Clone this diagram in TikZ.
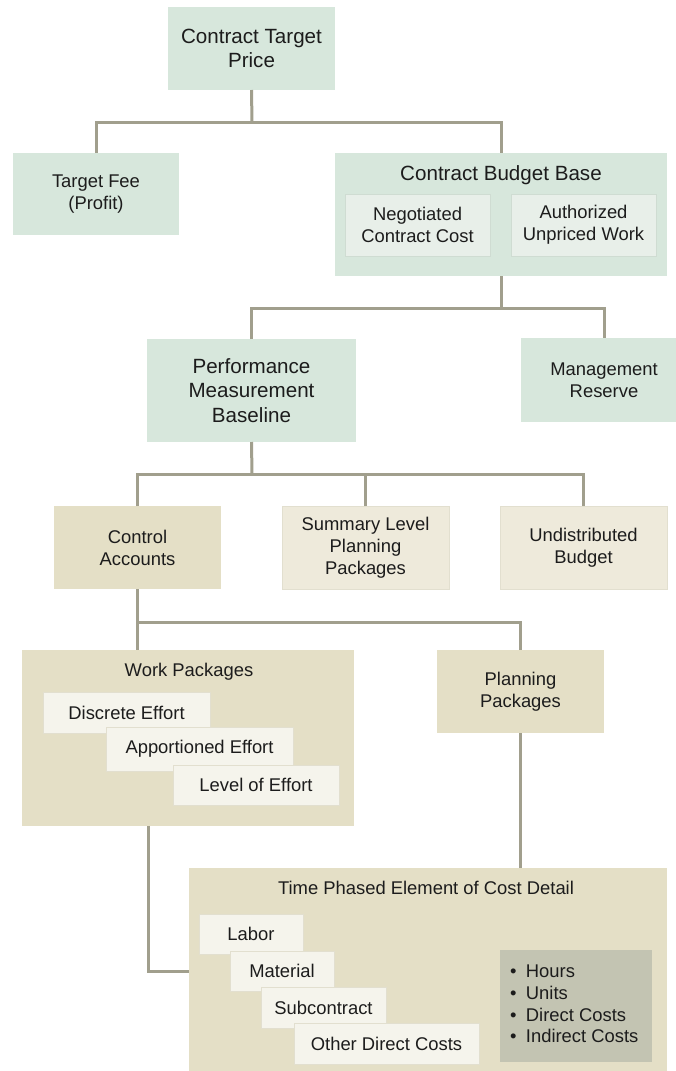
\documentclass[tikz,border=0pt]{standalone}
\usepackage{fontspec}
\setmainfont{Liberation Sans}
\definecolor{grn}{HTML}{D7E7DC}
\definecolor{grnin}{HTML}{E8EFE9}
\definecolor{grnbd}{HTML}{CFDCD2}
\definecolor{tan}{HTML}{E4DFC6}
\definecolor{tanlt}{HTML}{EEEADB}
\definecolor{cream}{HTML}{F5F4EC}
\definecolor{creambd}{HTML}{E2DFCF}
\definecolor{grybox}{HTML}{C3C4B2}
\definecolor{lnc}{HTML}{A19F8D}
\definecolor{txt}{HTML}{1C1C1C}
\tikzset{
  x=1pt, y=-1pt,
  base/.style={inner sep=0pt, outer sep=0pt, align=center, text=txt,
    font=\fontsize{18.4}{22}\selectfont},
  big/.style={font=\fontsize{20.6}{24.3}\selectfont},
  gbox/.style={base, fill=grn},
  gin/.style={base, fill=grnin, draw=grnbd, line width=0.8pt},
  tbox/.style={base, fill=tan},
  tlt/.style={base, fill=tanlt, draw=creambd, line width=0.6pt},
  cbox/.style={base, fill=cream, draw=creambd, line width=0.8pt},
  lbl/.style={base, anchor=base},
  conn/.style={draw=lnc, line width=3pt},
  sz/.style 2 args={minimum width=#1pt, minimum height=#2pt},
}
\begin{document}
\begin{tikzpicture}
\useasboundingbox[fill=white] (0,0) rectangle (676,1071);
\clip (0,0) rectangle (676,1071);

% level 1
\node[gbox, big, sz={167}{83}] (ctp) at (251.5,48.5) {Contract Target\\Price};
% level 2
\node[gbox, sz={166}{82}] (fee) at (96,194) {Target Fee\\(Profit)};
\node[gbox, sz={332}{123}] (cbb) at (501,214.5) {};
\node[lbl, big] (cbbt) at (501,180) {Contract Budget Base};
\node[gin, sz={145}{62}] (neg) at (417.5,225) {Negotiated\\Contract Cost};
\node[gin, sz={145}{62}] (auth) at (583.5,225) {Authorized\\Unpriced Work};
% level 3
\node[gbox, big, sz={209}{103}] (pmb) at (251.5,390.5) {Performance\\Measurement\\Baseline};
\node[gbox, sz={166}{84}] (mr) at (604,380) {Management\\Reserve};
% level 4
\node[tbox, sz={167}{83}] (ca) at (137.5,547.5) {Control\\Accounts};
\node[tlt, sz={167}{83}] (slp) at (365.5,547.5) {Summary Level\\Planning\\Packages};
\node[tlt, sz={167}{83}] (ub) at (583.5,547.5) {Undistributed\\Budget};
% level 5
\node[tbox, sz={332}{176}] (wp) at (188,738) {};
\node[lbl] (wpt) at (189,676) {Work Packages};
\node[cbox, sz={167}{41}] (de) at (126.5,712.5) {Discrete Effort};
\node[cbox, sz={187}{44}] (ae) at (199.5,749) {Apportioned Effort};
\node[cbox, sz={166}{40}] (loe) at (256,785) {Level of Effort};
\node[tbox, sz={167}{83}] (pp) at (520.5,691.5) {Planning\\Packages};
% level 6
\node[tbox, sz={478}{212}] (tpe) at (428,974) {};
\node[lbl] (tpet) at (426,894) {Time Phased Element of Cost Detail};
\node[cbox, sz={104}{40}] (lab) at (251,934) {Labor};
\node[cbox, sz={104}{40}] (mat) at (282,971) {Material};
\node[cbox, sz={125}{41}] (sub) at (323.5,1007.5) {Subcontract};
\node[cbox, sz={185}{41}] (odc) at (386.5,1043.5) {Other Direct Costs};
\node[base, fill=grybox, sz={152}{112}] (gb) at (576,1006) {};
\node[base, anchor=west, align=left, font=\fontsize{18.4}{21.7}\selectfont] (bl) at (510,1004)
  {\textbullet\hspace{9.5pt}Hours\\\textbullet\hspace{9.5pt}Units\\\textbullet\hspace{9.5pt}Direct Costs\\\textbullet\hspace{9.5pt}Indirect Costs};

% connectors
\coordinate (j1) at (252,122);
\coordinate (j2) at (501,308);
\coordinate (j3) at (252,474);
\coordinate (j4) at (137.5,622);
\coordinate (k) at (148,971);
\draw[conn] (ctp.south) -- (j1);
\draw[conn] (fee.north) |- (j1) -| (cbb.north);
\draw[conn] (cbb.south) -- (j2);
\draw[conn] (pmb.north) |- (j2) -| (mr.north);
\draw[conn] (pmb.south) -- (j3);
\draw[conn] (ca.north) |- (j3) -| (ub.north);
\draw[conn] (slp.north) -- (slp.north |- j3);
\draw[conn] (ca.south) -- (ca.south |- wp.north);
\draw[conn] (j4) -| (pp.north);
\draw[conn] (pp.south) -- (pp.south |- tpe.north);
\draw[conn] (k |- wp.south) -- (k) -- (k -| tpe.west);
\end{tikzpicture}
\end{document}
